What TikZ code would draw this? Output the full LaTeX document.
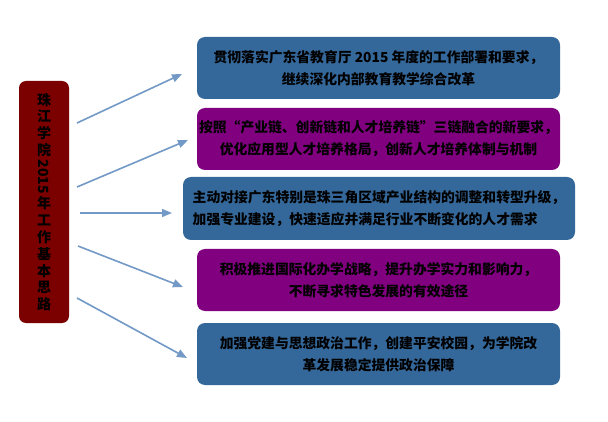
\documentclass[tikz,border=0pt]{standalone}
\usepackage{fontspec}
\setmainfont{Noto Sans CJK SC}
\usepackage{graphicx}
\usepackage{xcolor}
\usetikzlibrary{arrows.meta}

\definecolor{goalblue}{RGB}{53,104,154}
\definecolor{goalpurple}{RGB}{128,0,128}
\definecolor{titlered}{RGB}{123,0,0}
\definecolor{arrowblue}{RGB}{115,153,198}

\tikzset{
  goalbox/.style={rounded corners=8pt, minimum width=363pt, minimum height=62pt,
    inner sep=2pt, align=center, text=black,
    font=\fontsize{13.8}{22}\selectfont\bfseries},
  goalarrow/.style={arrowblue, line width=1.6pt, -{Triangle[length=10pt,width=8pt]}}
}

\begin{document}
\begin{tikzpicture}[x=1pt,y=-1pt]
  \useasboundingbox[fill=white] (0,0) rectangle (608,422);

  % title bar on the left, characters stacked
  \node[fill=titlered, rounded corners=7pt, minimum width=50pt, minimum height=242pt,
        inner sep=0pt, align=center, font=\fontsize{14}{16.8}\selectfont\bfseries]
    (main) at (44,202)
    {珠\\江\\学\\院\\[2pt]\rotatebox[origin=c]{-90}{2015}\\[2pt]年\\工\\作\\基\\本\\思\\路};

  % the five goals
  \node[goalbox, fill=goalblue] (g1) at (378.5,68)
    {贯彻落实广东省教育厅 2015 年度的工作部署和要求，\\继续深化内部教育教学综合改革};
  \node[goalbox, fill=goalpurple] (g2) at (378.5,139)
    {按照“产业链、创新链和人才培养链”三链融合的新要求，\\优化应用型人才培养格局，创新人才培养体制与机制};
  \node[goalbox, fill=goalblue, minimum width=392pt, minimum height=63pt, align=left] (g3) at (379,208.5)
    {主动对接广东特别是珠三角区域产业结构的调整和转型升级，\\加强专业建设，快速适应并满足行业不断变化的人才需求};
  \node[goalbox, fill=goalpurple] (g4) at (378.5,280)
    {积极推进国际化办学战略，提升办学实力和影响力，\\不断寻求特色发展的有效途径};
  \node[goalbox, fill=goalblue] (g5) at (378.5,354)
    {加强党建与思想政治工作，创建平安校园，为学院改\\革发展稳定提供政治保障};

  % arrows (free ends)
  \foreach \i/\sx/\sy/\ex/\ey in {1/77/123/182/74, 2/77/187/188/140, 3/80/213/172/213,
                                  4/78/246/183/287, 5/77/298/187/358}{
    \coordinate (s\i) at (\sx,\sy);
    \coordinate (e\i) at (\ex,\ey);
    \draw[goalarrow] (s\i) -- (e\i);
  }
\end{tikzpicture}
\end{document}
